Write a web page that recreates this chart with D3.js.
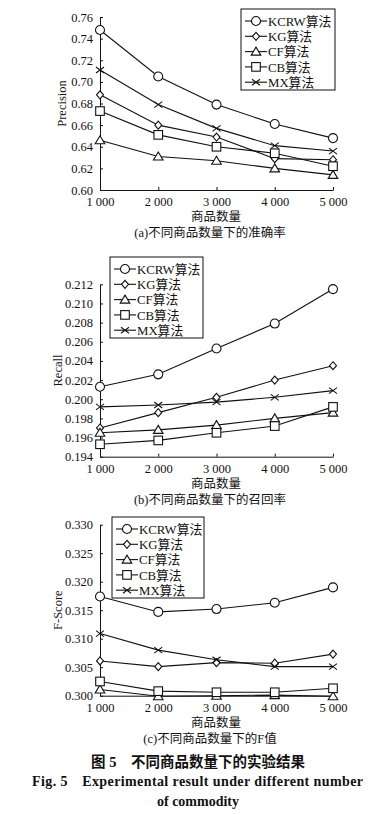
<!DOCTYPE html>
<html>
<head>
<meta charset="utf-8">
<script src="https://cdn.jsdelivr.net/npm/d3@7"></script>
<style>
  body { margin: 0; background: #fff; }
  svg text { font-family: "Liberation Serif", "Noto Sans CJK SC", serif; fill: #111; }
</style>
</head>
<body>
<svg id="fig" width="387" height="815"></svg>
<script>
var counts = [1000, 2000, 3000, 4000, 5000];
var seriesNames = ["KCRW算法", "KG算法", "CF算法", "CB算法", "MX算法"];
var markerTypes = ["circle", "diamond", "triangle", "square", "cross"];

// (a) precision
var precKCRW = [0.748, 0.705, 0.679, 0.661, 0.648];
var precKG   = [0.688, 0.660, 0.649, 0.629, 0.628];
var precCF   = [0.646, 0.631, 0.627, 0.620, 0.614];
var precCB   = [0.673, 0.651, 0.640, 0.634, 0.622];
var precMX   = [0.711, 0.679, 0.657, 0.641, 0.636];
var precTicks = [0.60, 0.62, 0.64, 0.66, 0.68, 0.70, 0.72, 0.74, 0.76];

// (b) recall
var recKCRW = [0.2013, 0.2026, 0.2053, 0.2079, 0.2115];
var recKG   = [0.1970, 0.1986, 0.2002, 0.2020, 0.2035];
var recCF   = [0.1965, 0.1968, 0.1973, 0.1980, 0.1986];
var recCB   = [0.1953, 0.1957, 0.1965, 0.1972, 0.1992];
var recMX   = [0.1992, 0.1994, 0.1997, 0.2002, 0.2009];
var recTicks = [0.194, 0.196, 0.198, 0.200, 0.202, 0.204, 0.206, 0.208, 0.210, 0.212];

// (c) F-score
var fKCRW = [0.3174, 0.3147, 0.3152, 0.3163, 0.3190];
var fKG   = [0.3061, 0.3051, 0.3058, 0.3057, 0.3073];
var fCF   = [0.3011, 0.2999, 0.3000, 0.3001, 0.2999];
var fCB   = [0.3025, 0.3008, 0.3006, 0.3006, 0.3013];
var fMX   = [0.3109, 0.3080, 0.3063, 0.3051, 0.3051];
var fTicks = [0.300, 0.305, 0.310, 0.315, 0.320, 0.325, 0.330];

var svg = d3.select("#fig");

function fmtCount(v) {
  return d3.format(",")(v).replace(",", " ");
}

function drawMarker(g, type, cx, cy) {
  var s = g.append("g").attr("transform", "translate(" + cx + "," + cy + ")")
    .attr("fill", "#fff").attr("stroke", "#111").attr("stroke-width", 1.1);
  if (type === "circle") s.append("circle").attr("r", 4.5);
  if (type === "diamond") s.append("path").attr("d", "M0,-4L3.5,0L0,4L-3.5,0Z");
  if (type === "triangle") s.append("path").attr("d", "M0,-4.5L4.8,3.5L-4.8,3.5Z");
  if (type === "square") s.append("rect").attr("x", -4.3).attr("y", -4.3).attr("width", 8.6).attr("height", 8.6);
  if (type === "cross") s.append("path").attr("fill", "none").attr("d", "M-4,-3L4,3M-4,3L4,-3");
}

function drawChart(opt) {
  var g = svg.append("g");
  var x = d3.scaleLinear().domain([1000, 5000]).range([100, 333]);
  var y = d3.scaleLinear().domain(opt.domain).range([opt.bottom, opt.top]);

  // axes, ticks pointing inward
  var yAxis = d3.axisLeft(y).tickValues(opt.ticks).tickFormat(d3.format(opt.fmt))
    .tickSizeInner(-3).tickSizeOuter(0).tickPadding(7);
  g.append("g").attr("transform", "translate(100,0)").call(yAxis)
    .call(function (a) {
      a.select(".domain").attr("stroke", "#111");
      a.selectAll("line").attr("stroke", "#111");
      a.selectAll("text").style("font-size", "12.5px").style("font-family", "Liberation Serif");
    });
  var xAxis = d3.axisBottom(x).tickValues(counts).tickFormat(fmtCount)
    .tickSizeInner(-3).tickSizeOuter(0).tickPadding(7);
  g.append("g").attr("transform", "translate(0," + opt.bottom + ")").call(xAxis)
    .call(function (a) {
      a.select(".domain").attr("stroke", "#111");
      a.selectAll("line").attr("stroke", "#111");
      a.selectAll("text").style("font-size", "12.5px").style("font-family", "Liberation Serif");
    });

  // lines + markers
  var line = d3.line().x(function (d, i) { return x(counts[i]); }).y(function (d) { return y(d); });
  opt.series.forEach(function (vals, k) {
    g.append("path").datum(vals).attr("d", line)
      .attr("fill", "none").attr("stroke", "#111").attr("stroke-width", 1.1);
  });
  opt.series.forEach(function (vals, k) {
    vals.forEach(function (v, i) { drawMarker(g, markerTypes[k], x(counts[i]), y(v)); });
  });

  // y title
  g.append("text").attr("transform", "translate(" + opt.ylabelX + "," + ((opt.top + opt.bottom) / 2) + ") rotate(-90)")
    .attr("text-anchor", "middle").style("font-size", "12.5px").text(opt.ylabel);
  // x title and caption
  g.append("text").attr("x", 216).attr("y", opt.bottom + 31).attr("text-anchor", "middle")
    .style("font-size", "12.5px").text("商品数量");
  g.append("text").attr("x", 210).attr("y", opt.bottom + 47).attr("text-anchor", "middle")
    .style("font-size", "12.5px").text(opt.caption);

  // legend
  var lg = g.append("g").attr("transform", "translate(" + opt.legend[0] + "," + opt.legend[1] + ")");
  lg.append("rect").attr("width", opt.legend[2]).attr("height", 81)
    .attr("fill", "#fff").attr("stroke", "#111").attr("stroke-width", 1);
  seriesNames.forEach(function (name, k) {
    var ry = 12 + k * 15.3;
    lg.append("line").attr("x1", 4).attr("x2", 26).attr("y1", ry).attr("y2", ry)
      .attr("stroke", "#111").attr("stroke-width", 1.1);
    drawMarker(lg, markerTypes[k], 15, ry);
    lg.append("text").attr("x", 27).attr("y", ry + 4.6).style("font-size", "12.8px").text(name);
  });
}

drawChart({
  domain: [0.60, 0.76], top: 17, bottom: 190, ticks: precTicks, fmt: ".2f",
  series: [precKCRW, precKG, precCF, precCB, precMX],
  ylabel: "Precision", ylabelX: 66, caption: "(a)不同商品数量下的准确率",
  legend: [241, 9, 94]
});
drawChart({
  domain: [0.194, 0.212], top: 284.3, bottom: 456.7, ticks: recTicks, fmt: ".3f",
  series: [recKCRW, recKG, recCF, recCB, recMX],
  ylabel: "Recall", ylabelX: 62, caption: "(b)不同商品数量下的召回率",
  legend: [110, 257, 93]
});
drawChart({
  domain: [0.300, 0.330], top: 524.7, bottom: 695.7, ticks: fTicks, fmt: ".3f",
  series: [fKCRW, fKG, fCF, fCB, fMX],
  ylabel: "F-Score", ylabelX: 62, caption: "(c)不同商品数量下的F值",
  legend: [112, 517, 92]
});

// figure caption
svg.append("text").attr("x", 198).attr("y", 767).attr("text-anchor", "middle")
  .style("font-size", "14.5px").style("font-weight", "bold").text("图 5　不同商品数量下的实验结果");
svg.append("text").attr("x", 32).attr("y", 786).attr("textLength", 331).attr("lengthAdjust", "spacing")
  .style("font-size", "14px").style("font-weight", "bold").text("Fig. 5　Experimental result under different number");
svg.append("text").attr("x", 198).attr("y", 806).attr("text-anchor", "middle")
  .style("font-size", "14px").style("font-weight", "bold").text("of commodity");
</script>
</body>
</html>
